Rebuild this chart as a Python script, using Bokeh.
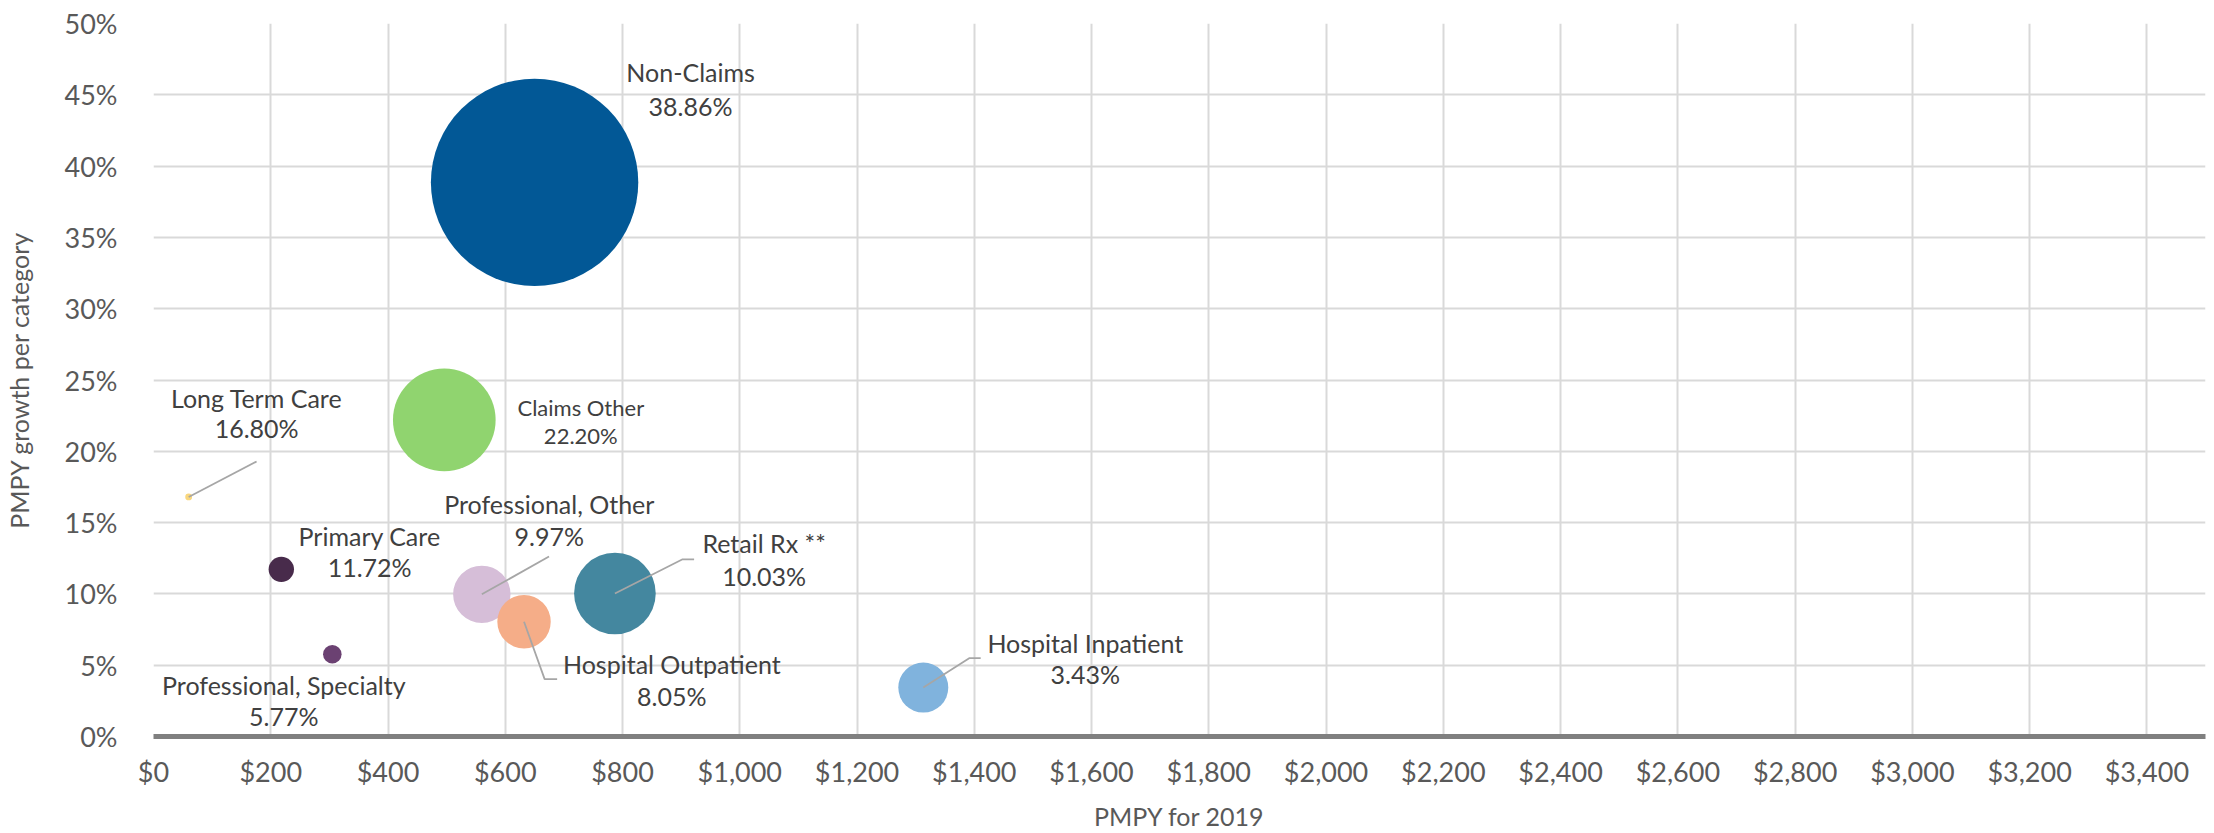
from bokeh.plotting import figure
from bokeh.models import Range1d, FixedTicker, NumeralTickFormatter, ColumnDataSource
from bokeh.embed import file_html
from bokeh.resources import INLINE
from bokeh.core.properties import value
import math

# ---------------- data ----------------
categories = ["Non-Claims", "Claims Other", "Long Term Care", "Primary Care",
              "Professional, Specialty", "Professional, Other",
              "Hospital Outpatient", "Retail Rx **", "Hospital Inpatient"]
pmpy_2019 = [650, 496, 60, 218, 305, 560, 632, 787, 1313]
pmpy_growth = [0.3886, 0.2220, 0.1680, 0.1172, 0.0577, 0.0997, 0.0805, 0.1003, 0.0343]
bubble_size = [100.0, 24.5, 0.11, 1.50, 0.80, 7.66, 6.63, 15.5, 5.81]
colors = ["#025896", "#90D46F", "#F9D77E", "#482B4B", "#6B4172",
          "#D6BED8", "#F5AD88", "#44879F", "#80B3DD"]
x_ticks = [0, 200, 400, 600, 800, 1000, 1200, 1400, 1600, 1800, 2000,
           2200, 2400, 2600, 2800, 3000, 3200, 3400]
y_ticks = [0.0, 0.05, 0.10, 0.15, 0.20, 0.25, 0.30, 0.35, 0.40, 0.45, 0.50]

# ---------------- layout / style ----------------
W, H = 2214, 833
X_MAX, Y_MAX = 3500, 0.5
BL, BR, BT, BB = 153, 9, 23, 97
FW, FH = W - BL - BR, H - BT - BB
PX_X = X_MAX / FW      # data units per screen px
PX_Y = Y_MAX / FH
MAX_RADIUS_PX = 103.7

# label offsets in screen px (dy positive = down)
label_dx = [156, 136.5, 68, 88.3, -48.5, 67.5, 147.8, 149.2, 162]
name_dy = [-110, -12.4, -99.4, -33.6, 30.6, -90.2, 42.4, -50, -44.5]
value_dy = [-76.7, 16, -68.8, -1.9, 61.6, -58.5, 74.1, -17.7, -13.5]
leaders = {
    2: [(0, 0), (67.9, -35.4)],
    5: [(0, 0), (67.2, -37.8)],
    6: [(0, 0), (20.6, 57.4), (33.1, 57.4)],
    7: [(0, 0), (67.2, -34), (79.2, -34)],
    8: [(0, 0), (46.3, -29.5), (57.4, -29.5)],
}

p = figure(width=W, height=H, output_backend="svg", toolbar_location=None,
           x_range=Range1d(0, X_MAX), y_range=Range1d(0, Y_MAX),
           min_border_left=BL, min_border_right=BR, min_border_top=BT,
           min_border_bottom=BB)
p.outline_line_color = None
p.background_fill_color = "white"
p.border_fill_color = "white"

# grids
p.xgrid.ticker = FixedTicker(ticks=x_ticks)
p.ygrid.ticker = FixedTicker(ticks=y_ticks)
for g in (p.xgrid, p.ygrid):
    g.grid_line_color = "#D9D9D9"
    g.grid_line_width = 2

# axes
p.xaxis.ticker = FixedTicker(ticks=x_ticks)
p.yaxis.ticker = FixedTicker(ticks=y_ticks)
p.xaxis.formatter = NumeralTickFormatter(format="$0,0")
p.yaxis.formatter = NumeralTickFormatter(format="0%")
for ax in (p.xaxis, p.yaxis):
    ax.major_tick_line_color = None
    ax.minor_tick_line_color = None
    ax.major_label_text_font = "Lato"
    ax.major_label_text_font_size = "27px"
    ax.major_label_text_color = "#595959"
    ax.axis_label_text_font = "Lato"
    ax.axis_label_text_font_size = "25px"
    ax.axis_label_text_font_style = "normal"
    ax.axis_label_text_color = "#595959"
p.xaxis.axis_line_color = "#808080"
p.xaxis.axis_line_width = 5
p.yaxis.axis_line_color = None
p.xaxis.major_label_standoff = 12
p.yaxis.major_label_standoff = 30
p.xaxis.axis_label = "PMPY for 2019"
p.yaxis.axis_label = "PMPY growth per category"
p.xaxis.axis_label_standoff = 10
p.yaxis.axis_label_standoff = 28

# bubbles
sizes_px = [2 * MAX_RADIUS_PX * math.sqrt(s / max(bubble_size)) for s in bubble_size]
src = ColumnDataSource(dict(x=pmpy_2019, y=pmpy_growth, size=sizes_px, color=colors,
                            name=categories))
p.scatter("x", "y", size="size", fill_color="color", line_color=None, source=src)

# leader lines
xs, ys = [], []
for i, pts in leaders.items():
    xs.append([pmpy_2019[i] + dx * PX_X for dx, dy in pts])
    ys.append([pmpy_growth[i] - dy * PX_Y for dx, dy in pts])
p.multi_line(xs, ys, line_color="#A6A6A6", line_width=1.8)

# data labels
value_text = [f"{g * 100:.2f}%" for g in pmpy_growth]
lx = [x + dx * PX_X for x, dx in zip(pmpy_2019, label_dx)]
ly1 = [y - d * PX_Y for y, d in zip(pmpy_growth, name_dy)]
ly2 = [y - d * PX_Y for y, d in zip(pmpy_growth, value_dy)]
font_sizes = ["22px" if c == "Claims Other" else "25px" for c in categories]
lab = ColumnDataSource(dict(x=lx, y1=ly1, y2=ly2, name=categories, val=value_text,
                            fs=font_sizes))
for ycol, tcol in (("y1", "name"), ("y2", "val")):
    p.text(x="x", y=ycol, text=tcol, source=lab, text_font=value("Lato"),
           text_font_size="fs", text_color="#404040", text_align="center",
           text_baseline="middle")

open("out.html", "w").write(file_html(p, INLINE))
